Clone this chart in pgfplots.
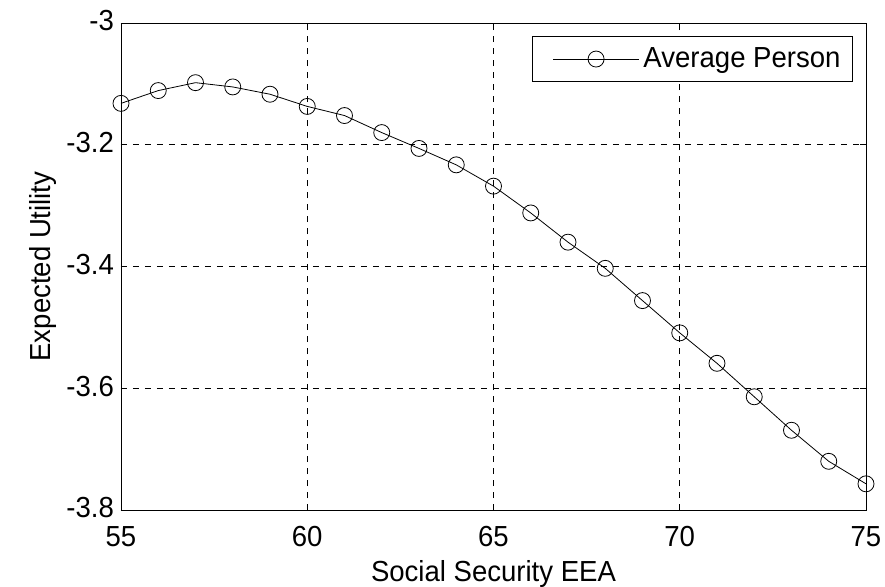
\documentclass[border=0pt]{standalone}
\usepackage{fontspec}
\setmainfont{Liberation Sans}[FakeStretch=0.95]
\usepackage{pgfplots}
\pgfplotsset{compat=1.18}
\begin{document}
\begin{tikzpicture}
\begin{axis}[
  scale only axis,
  width=372.5pt, height=243.5pt,
  xmin=55, xmax=75, ymin=-3.8, ymax=-3,
  xtick={55,60,...,75},
  ytick={-3.8,-3.6,-3.4,-3.2,-3},
  yticklabel style={/pgf/number format/fixed, yshift=1pt},
  /pgf/number format/assume math mode=true,
  tick align=inside,
  tick style={black, thin},
  major tick length=3pt,
  grid=major,
  major grid style={black, dashed, thin},
  axis line style={black, thin},
  xlabel={Social Security EEA},
  ylabel={Expected Utility},
  ticklabel style={font=\fontsize{14.5}{16}\selectfont},
  xticklabel style={yshift=-4.5pt},
  label style={font=\fontsize{14.5}{16}\selectfont},
  ylabel style={yshift=-2pt},
  legend style={at={(0.9825,0.973)}, anchor=north east, draw=black, font=\fontsize{14.5}{16}\selectfont, cells={anchor=west}, inner xsep=4pt, inner ysep=3.5pt},
  legend cell align=left,
  legend image code/.code={\path (-6pt,0pt); \draw[mark repeat=2, mark phase=2, #1] plot coordinates {(0pt,0pt) (21.5pt,0pt) (43pt,0pt)};},
]
\addplot[black, thin, mark=o, mark size=4pt, mark options={solid, thin}] coordinates {
(55,-3.132) (56,-3.111) (57,-3.098) (58,-3.105) (59,-3.117) (60,-3.137)
(61,-3.152) (62,-3.180) (63,-3.206) (64,-3.233) (65,-3.268) (66,-3.312)
(67,-3.360) (68,-3.403) (69,-3.456) (70,-3.509) (71,-3.559) (72,-3.614)
(73,-3.669) (74,-3.720) (75,-3.757)
};
\addlegendentry{Average Person}
\end{axis}
\pgfresetboundingbox
\path (-60.5pt,-38pt) rectangle (382pt,255pt);
\end{tikzpicture}
\end{document}
